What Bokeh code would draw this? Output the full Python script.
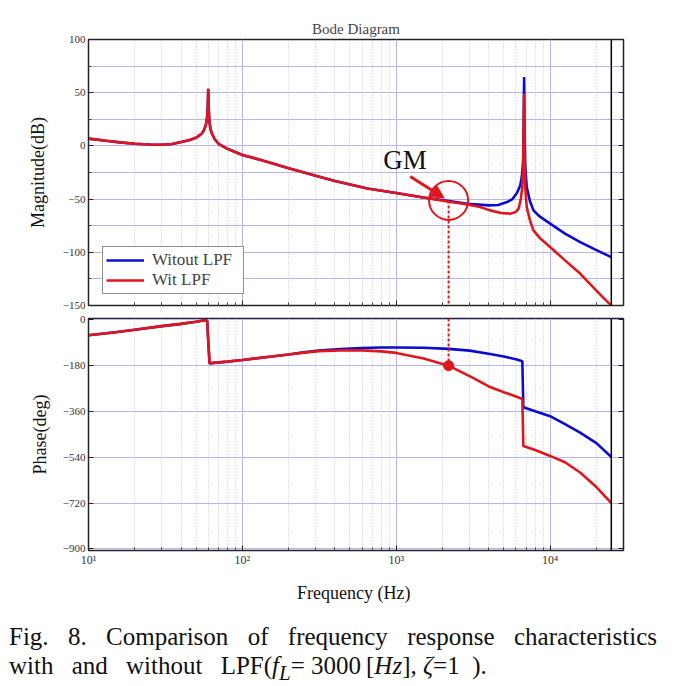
from bokeh.plotting import figure
from bokeh.models import (FixedTicker, Span, Arrow, NormalHead, LinearAxis,
                          Legend, LegendItem, Div, Range1d)
from bokeh.layouts import column
from bokeh.core.properties import value
from bokeh.embed import file_html
from bokeh.resources import INLINE

# ---------------- data ----------------
mag_freq_blue = [10, 13, 16, 20, 25, 30, 35, 40, 45, 50, 54, 56, 58, 59, 59.6, 60, 60.4, 61, 62, 63.5,
                 66, 70, 80, 100, 130, 150, 200, 300, 400, 650, 1000, 1500, 2200, 2900, 4000, 4600,
                 5200, 5700, 6100, 6400, 6550, 6680, 6730, 6780, 6820, 6900, 7050, 7400, 7800, 8500,
                 10000, 12500, 15700, 20000, 25000]
mag_blue = [6.8, 4.8, 3.3, 2.0, 1.3, 1.1, 1.8, 3.6, 5.4, 7.7, 11, 14, 20, 27, 36, 53.7, 36, 24, 16, 11.4,
            6.5, 2.0, -2.7, -8.5, -13, -15.5, -21, -28, -33, -40, -44.3, -48.5, -51.8, -54.4, -55.9, -55.5,
            -53, -50, -44, -37, -29, -15, 20, 64.7, 15, -20, -38.7, -52, -60.6, -66,
            -73, -82.5, -90.4, -98, -104.5]

mag_freq_red = [10, 13, 16, 20, 25, 30, 35, 40, 45, 50, 54, 56, 58, 59, 59.6, 60, 60.4, 61, 62, 63.5,
                66, 70, 80, 100, 130, 150, 200, 300, 400, 650, 1000, 1500, 2200, 2900, 3500, 4073,
                4800, 5500, 6000, 6240, 6450, 6600, 6700, 6780, 6830, 6900, 7050, 7400, 7790, 8500,
                10000, 12500, 15670, 20000, 23000, 25000]
mag_red = [6.8, 4.8, 3.3, 2.0, 1.3, 1.1, 1.8, 3.6, 5.4, 7.7, 11, 14, 20, 27, 36, 53.7, 36, 24, 16, 11.4,
           6.5, 2.0, -2.7, -8.5, -13, -15.5, -21, -28, -33, -40, -44.3, -48.5, -52.5, -55, -57.5, -60.6,
           -63, -63.7, -62, -59, -50, -38.7, -10, 49, -10, -40, -57.5, -70, -79.4, -86,
           -95, -107.6, -120, -136, -145, -150]

ph_freq_blue = [10, 15, 20, 30, 40, 50, 56, 59, 61.2, 65, 80, 100, 150, 200, 250, 313, 433, 600, 800,
                1000, 1500, 2190, 3000, 4073, 5000, 6000, 6600, 6700, 7000, 8000, 10000, 12500,
                15670, 20000, 25000]
ph_blue = [-62, -50, -40, -26, -17, -9, -4, -4, -172, -170, -165, -159, -146, -137, -129, -122, -116,
           -112, -110, -109.5, -110.5, -115, -122, -135, -145, -156, -164, -343, -348, -360, -379,
           -410, -444, -485, -539]

ph_freq_red = [10, 15, 20, 30, 40, 50, 56, 59, 61.2, 65, 80, 100, 150, 200, 250, 313, 433, 600, 800,
               1000, 1508, 2190, 3180, 4073, 5000, 6000, 6600, 6700, 7000, 8000, 10000, 12500,
               15670, 20000, 25000]
ph_red = [-62, -50, -40, -26, -17, -9, -4, -4, -172, -170, -165, -159, -146, -137, -130, -124, -121,
          -121, -125, -131, -153, -181, -230, -265, -285, -302, -312, -496, -500, -512, -535,
          -560, -600, -657, -720]

freq_end = 25000
gm_freq = 2190
gm_mag = -51.2
gm_phase = -181

x_major = [10, 100, 1000, 10000]
x_minor = [m * d for d in (10, 100, 1000, 10000) for m in range(2, 10) if m * d <= 30000]
x_labels = {10: "10\u00b9", 100: "10\u00b2", 1000: "10\u00b3", 10000: "10\u2074"}
mag_ticks = [-150, -100, -50, 0, 50, 100]
mag_minor = [-125, -75, -25, 25, 75]
ph_ticks = [-900, -720, -540, -360, -180, 0]

series_names = ["Witout LPF", "Wit LPF"]

# ---------------- style ----------------
BLUE = "#0a0ad2"
RED = "#e0161c"
GRID = "#b6b6ee"
FONT = "Liberation Serif"


def style(p, yticks, yminor):
    p.outline_line_color = "#222222"
    p.outline_line_width = 1.5
    p.xgrid.ticker = FixedTicker(ticks=x_major, minor_ticks=x_minor)
    p.xgrid.grid_line_color = GRID
    p.xgrid.grid_line_width = 1
    p.xgrid.minor_grid_line_color = "#c4c4c4"
    p.xgrid.minor_grid_line_dash = "1 2"
    p.xgrid.minor_grid_line_width = 1
    p.ygrid.ticker = FixedTicker(ticks=yticks, minor_ticks=yminor)
    p.ygrid.grid_line_color = GRID
    p.ygrid.minor_grid_line_color = GRID
    p.ygrid.grid_line_width = 1
    right = LinearAxis(ticker=FixedTicker(ticks=yticks, minor_ticks=yminor),
                       major_label_text_font_size="5px", major_label_text_alpha=0,
                       major_label_standoff=0)
    p.add_layout(right, "right")
    for ax in p.xaxis:
        ax.ticker = FixedTicker(ticks=x_major, minor_ticks=x_minor)
        ax.major_tick_in = 5
        ax.major_tick_out = 0
        ax.minor_tick_in = 3
        ax.minor_tick_out = 0
        ax.axis_line_color = "#222222"
        ax.major_tick_line_color = "#222222"
        ax.minor_tick_line_color = "#444444"
    for ax in p.yaxis:
        ax.major_tick_in = 5
        ax.major_tick_out = 0
        ax.minor_tick_in = 3
        ax.minor_tick_out = 0
        ax.axis_line_color = "#222222"
        ax.major_tick_line_color = "#222222"
        ax.minor_tick_line_color = "#444444"
    left = p.yaxis[0]
    left.ticker = FixedTicker(ticks=yticks, minor_ticks=yminor)
    left.major_label_text_font = FONT
    left.major_label_text_font_size = "11px"
    left.major_label_text_color = "#333333"
    left.major_label_standoff = 3
    left.axis_label_text_font = FONT
    left.axis_label_text_font_style = "normal"
    left.axis_label_text_font_size = "18px"
    left.axis_label_text_color = "#111111"


# ---------------- magnitude ----------------
p1 = figure(width=643, height=311, x_axis_type="log",
            x_range=Range1d(10, 30000), y_range=Range1d(-150, 100),
            output_backend="svg", toolbar_location=None,
            min_border_left=88, min_border_right=20, min_border_top=39, min_border_bottom=6,
            title="Bode Diagram")
p1.title.text_font = FONT
p1.title.text_font_size = "15px"
p1.title.text_font_style = "normal"
p1.title.align = "center"
p1.title.standoff = 6
p1.yaxis[0].axis_label = "Magnitude(dB)"
p1.yaxis[0].axis_label_standoff = 12
p1.xaxis.major_label_text_font_size = "5px"
p1.xaxis.major_label_text_alpha = 0
p1.xaxis.major_label_standoff = 0
style(p1, mag_ticks, mag_minor)

r_blue = p1.line(mag_freq_blue, mag_blue, line_color=BLUE, line_width=2.6)
r_red = p1.line(mag_freq_red, mag_red, line_color=RED, line_width=2.6)
p1.add_layout(Span(location=freq_end, dimension="height", line_color="black", line_width=1.5))

# GM annotation
p1.line([gm_freq, gm_freq], [gm_mag, -150], line_color=RED, line_width=2, line_dash="3 2")
p1.scatter([gm_freq], [gm_mag], size=39, marker="circle", fill_color=None,
           line_color=RED, line_width=2)
p1.add_layout(Arrow(end=NormalHead(size=13, fill_color=RED, line_color=RED),
                    x_start=1233, y_start=-28.7, x_end=2050, y_end=-49,
                    line_color=RED, line_width=3))
p1.text(x=[824], y=[-13.6], text=["GM"], text_font=value(FONT), text_font_size="27px",
        text_baseline="middle", text_align="left", text_color="#111111")

legend = Legend(items=[LegendItem(label=series_names[0], renderers=[r_blue]),
                       LegendItem(label=series_names[1], renderers=[r_red])],
                location=(14, 11))
legend.label_text_font = FONT
legend.label_text_font_size = "17px"
legend.label_text_line_height = 1.0
legend.glyph_width = 38
legend.glyph_height = 18
legend.label_height = 18
legend.label_width = 88
legend.label_standoff = 8
legend.spacing = 0
legend.padding = 3
legend.margin = 0
legend.border_line_color = "#222222"
legend.border_line_width = 1.5
legend.background_fill_alpha = 1.0
p1.add_layout(legend)

# ---------------- phase ----------------
p2 = figure(width=643, height=294, x_axis_type="log",
            x_range=Range1d(10, 30000), y_range=Range1d(-906, 4),
            output_backend="svg", toolbar_location=None,
            min_border_left=88, min_border_right=20, min_border_top=7, min_border_bottom=54)
p2.yaxis[0].axis_label = "Phase(deg)"
p2.yaxis[0].axis_label_standoff = 10
p2.xaxis.axis_label = "Frequency  (Hz)"
p2.xaxis.axis_label_text_font = FONT
p2.xaxis.axis_label_text_font_style = "normal"
p2.xaxis.axis_label_text_font_size = "18px"
p2.xaxis.axis_label_text_color = "#111111"
p2.xaxis.axis_label_standoff = 13
p2.xaxis.major_label_text_font = FONT
p2.xaxis.major_label_text_font_size = "12px"
p2.xaxis.major_label_text_color = "#333333"
p2.xaxis.major_label_standoff = 2
p2.xaxis.major_label_overrides = x_labels
style(p2, ph_ticks, [])

p2.line(ph_freq_blue, ph_blue, line_color=BLUE, line_width=2.6)
p2.line(ph_freq_red, ph_red, line_color=RED, line_width=2.6)
p2.add_layout(Span(location=freq_end, dimension="height", line_color="black", line_width=1.5))
p2.line([gm_freq, gm_freq], [4, gm_phase], line_color=RED, line_width=2, line_dash="3 2")
p2.scatter([gm_freq], [gm_phase], size=10, marker="circle", fill_color=RED, line_color=RED)

caption = Div(
    text=("<div style=\"text-align: justify; text-align-last: justify; width: 648px;\">"
          "Fig. 8. Comparison of frequency response characteristics</div>"
          "<div><span style=\"word-spacing: 12px;\">with and without </span>"
          "LPF(<i>f<sub>L</sub></i>= 3000&thinsp;[<i>Hz</i>], "
          "<i>&zeta;</i>=1&nbsp;&nbsp;).</div>"),
    width=656,
    styles={"font-family": FONT, "font-size": "25px", "line-height": "29px",
            "color": "#111111", "padding-left": "4px", "padding-top": "12px"})

layout = column(p1, p2, caption, spacing=0)

open("out.html", "w").write(file_html(layout, INLINE))
